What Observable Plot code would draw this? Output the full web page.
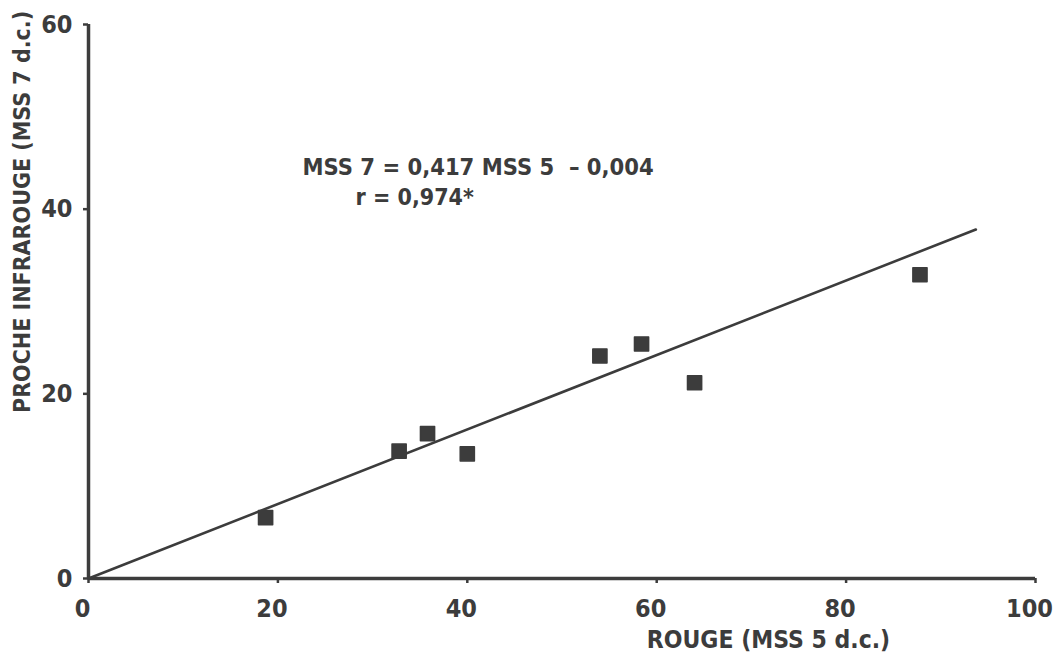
<!DOCTYPE html>
<html>
<head>
<meta charset="utf-8">
<script src="https://cdn.jsdelivr.net/npm/d3@7"></script>
<script src="https://cdn.jsdelivr.net/npm/@observablehq/plot@0.6"></script>
<style>
  html, body { margin: 0; padding: 0; background: #fff; }
  svg { font-family: "DejaVu Sans Condensed", "DejaVu Sans", sans-serif; }
</style>
</head>
<body>
<div id="chart"></div>
<script>
// Data
const rouge = [18.7, 32.8, 35.8, 40.0, 54.0, 58.4, 64.0, 87.8];          // MSS 5 d.c.
const infrarouge = [6.6, 13.8, 15.7, 13.5, 24.1, 25.4, 21.2, 32.9];     // MSS 7 d.c.
const lineX = [0, 93.7];
const lineY = [0, 37.8];
const xTicks = [0, 20, 40, 60, 80, 100];
const yTicks = [0, 20, 40, 60];
const equation = "MSS 7 = 0,417 MSS 5  \u2013 0,004";
const rText = "r = 0,974*";
const xLabel = "ROUGE (MSS 5 d.c.)";
const yLabel = "PROCHE INFRAROUGE (MSS 7 d.c.)";

const points = rouge.map((x, i) => ({x, y: infrarouge[i]}));
const fit = lineX.map((x, i) => ({x, y: lineY[i]}));
const ink = "#3c3c3c";

const chart = Plot.plot({
  width: 1057,
  height: 660,
  marginLeft: 88,
  marginRight: 22,
  marginTop: 24,
  marginBottom: 82,
  style: {background: "#fff", color: ink, fontFamily: "'DejaVu Sans Condensed', 'DejaVu Sans', sans-serif"},
  x: {domain: [0, 100]},
  y: {domain: [0, 60]},
  marks: [
    // tick marks only
    Plot.axisX(xTicks, {tickSize: 5, stroke: ink, strokeWidth: 2.5, label: null, tickFormat: () => null}),
    // tick labels only, nudged left as in the reference
    Plot.axisX(xTicks, {tickSize: 0, tickPadding: 21, dx: -6, fontSize: 25, fontWeight: "bold", label: null, tickFormat: d => d}),
    Plot.axisY(yTicks, {tickSize: 5, tickPadding: 11, fontSize: 25, fontWeight: "bold", stroke: ink, strokeWidth: 2.5, label: null, tickFormat: d => d}),
    Plot.ruleY([0], {stroke: ink, strokeWidth: 3.5}),
    Plot.ruleX([0], {stroke: ink, strokeWidth: 3.5}),
    Plot.line(fit, {x: "x", y: "y", stroke: ink, strokeWidth: 2.6}),
    Plot.dot(points, {x: "x", y: "y", symbol: "square", r: 8, fill: ink, stroke: ink, strokeWidth: 1.5, strokeLinejoin: "round"}),
    Plot.text([equation], {x: 22.6, y: 44.5, text: d => d, textAnchor: "start", fontSize: 23.5, fontWeight: "bold", fill: ink}),
    Plot.text([rText], {x: 28.2, y: 41.3, text: d => d, textAnchor: "start", fontSize: 23, fontWeight: "bold", fill: ink}),
    Plot.text([xLabel], {frameAnchor: "bottom", x: 71.8, dy: 69, text: d => d, fontSize: 24.5, fontWeight: "bold", fill: ink, textAnchor: "middle"}),
    Plot.text([yLabel], {frameAnchor: "left", y: 39.7, dx: -66, rotate: -90, text: d => d, fontSize: 23, fontWeight: "bold", fill: ink, textAnchor: "middle"})
  ]
});
document.getElementById("chart").appendChild(chart);
</script>
</body>
</html>
